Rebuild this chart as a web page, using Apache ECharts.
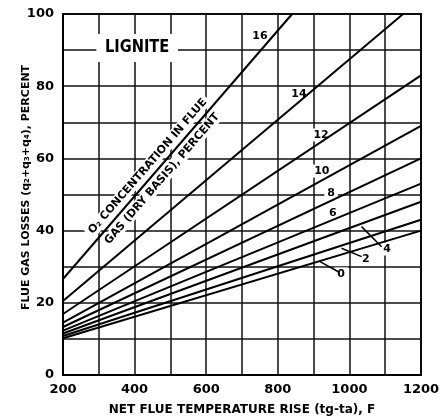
<!DOCTYPE html>
<html><head><meta charset="utf-8">
<script src="https://cdn.jsdelivr.net/npm/echarts@6/dist/echarts.min.js"></script>
<style>html,body{margin:0;padding:0;background:#fff}#c{width:445px;height:420px}</style>
</head><body><div id="c"></div>
<script>
// ---- data ----
const o2Levels  = ['16', '14', '12', '10', '8', '6', '4', '2', '0'];
const startTemp = [200, 200, 200, 200, 200, 200, 200, 200, 200];
const lossStart = [26.6, 20.5, 16.9, 14.5, 13.3, 12.3, 11.5, 10.8, 10.2];
const endTemp   = [840, 1150, 1200, 1200, 1200, 1200, 1200, 1200, 1200];
const lossEnd   = [100, 100, 83, 69, 60, 53, 48, 43, 40];
const xTickLabels = [200, 400, 600, 800, 1000, 1200];
const yTickLabels = [0, 20, 40, 60, 80, 100];

// ---- annotation placement (data coordinates) ----
const curveLabelAt = {
  '16': [750, 93.9], '14': [859, 77.8], '12': [921, 66.5], '10': [923, 56.5],
  '8': [949, 50.4], '6': [954, 44.9], '4': [1105, 34.9], '2': [1046, 32.1], '0': [977, 28.0]
};
const leaders = {
  '4': [[1034, 41.1], [1090, 35.5]],
  '2': [[978, 35.1], [1034, 32.8]],
  '0': [[918, 31.4], [969, 28.6]]
};

const FONT = 'DejaVu Sans';
const chart = echarts.init(document.getElementById('c'), null, {renderer: 'canvas'});

const series = o2Levels.map((lv, i) => ({
  type: 'line',
  name: lv,
  data: [[startTemp[i], lossStart[i]], [endTemp[i], lossEnd[i]]],
  showSymbol: false,
  symbol: 'none',
  lineStyle: {color: '#000', width: 2},
  silent: true,
  z: 3
}));

chart.setOption({
  animation: false,
  backgroundColor: '#fff',
  grid: {left: 63, right: 24, top: 14, bottom: 45, outerBoundsMode: 'none', containLabel: false,
    show: true, borderColor: '#000', borderWidth: 2, backgroundColor: 'transparent'},
  xAxis: {
    type: 'value', min: 200, max: 1200, interval: 100,
    name: 'NET FLUE TEMPERATURE RISE (tg-ta), F',
    nameLocation: 'middle', nameGap: 29, nameMoveOverlap: false,
    nameTextStyle: {fontFamily: FONT, fontSize: 12, fontWeight: 'bold', color: '#000'},
    axisLine: {show: true, lineStyle: {color: '#000', width: 2}},
    axisTick: {show: false},
    splitLine: {show: true, lineStyle: {color: '#111', width: 1.5}},
    axisLabel: {
      fontFamily: FONT, fontSize: 13, fontWeight: 'bold', color: '#000', margin: 8,
      formatter: v => xTickLabels.indexOf(v) >= 0 ? String(v) : ''
    }
  },
  yAxis: {
    type: 'value', min: 0, max: 100, interval: 10,
    name: 'FLUE GAS LOSSES (q\u2082+q\u2083+q\u2084), PERCENT',
    nameLocation: 'middle', nameGap: 31, nameMoveOverlap: false,
    nameTextStyle: {fontFamily: FONT, fontSize: 11, fontWeight: 'bold', color: '#000', padding: [0, 0, 0, 14]},
    axisLine: {show: true, lineStyle: {color: '#000', width: 2}},
    axisTick: {show: false},
    splitLine: {show: true, lineStyle: {color: '#111', width: 1.5}},
    axisLabel: {
      fontFamily: FONT, fontSize: 13, fontWeight: 'bold', color: '#000', margin: 9,
      formatter: v => yTickLabels.indexOf(v) >= 0 ? String(v) : ''
    }
  },
  series: series
});

function px(p) { return chart.convertToPixel({gridIndex: 0}, p); }

const g = [];
// LIGNITE
const lp = px([407, 90.6]);
g.push({type: 'text', x: lp[0], y: lp[1], z: 1, scaleX: 0.86,
  style: {text: 'LIGNITE', fontFamily: FONT, fontWeight: 'bold', fontSize: 17, fill: '#000',
    align: 'center', verticalAlign: 'middle', backgroundColor: '#fff', padding: [6, 10, 5, 10]}});

// diagonal text along curve 16
const a = px([startTemp[0], lossStart[0]]), b = px([endTemp[0], lossEnd[0]]);
const ang = Math.atan2(a[1] - b[1], b[0] - a[0]);
const nx = Math.sin(ang), ny = Math.cos(ang);
const anchorT = 457;
const anchorV = lossStart[0] + (lossEnd[0] - lossStart[0]) * (anchorT - startTemp[0]) / (endTemp[0] - startTemp[0]);
const c = px([anchorT, anchorV]);
const off = 9.5;
[['O\u2082 CONCENTRATION IN FLUE', -off], ['GAS (DRY BASIS), PERCENT', off]].forEach(([t, o]) => {
  g.push({type: 'text', x: c[0] + nx * o, y: c[1] + ny * o, rotation: ang, z: 1,
    style: {text: t, fontFamily: FONT, fontSize: 11, fontWeight: 'bold', fill: '#000', align: 'center', verticalAlign: 'middle',
      backgroundColor: '#fff', padding: [1, 3]}});
});

// curve labels
Object.keys(curveLabelAt).forEach(k => {
  const p = px(curveLabelAt[k]);
  g.push({type: 'text', x: p[0], y: p[1], z: 1,
    style: {text: k, fontFamily: FONT, fontWeight: 'bold', fontSize: 11, fill: '#000', align: 'center', verticalAlign: 'middle',
      backgroundColor: '#fff', padding: [1, 3]}});
});
// leaders
Object.keys(leaders).forEach(k => {
  const p1 = px(leaders[k][0]), p2 = px(leaders[k][1]);
  g.push({type: 'line', z: 1, shape: {x1: p1[0], y1: p1[1], x2: p2[0], y2: p2[1]}, style: {stroke: '#000', lineWidth: 1.5}});
});

chart.setOption({graphic: {elements: g}});
</script>
</body></html>
